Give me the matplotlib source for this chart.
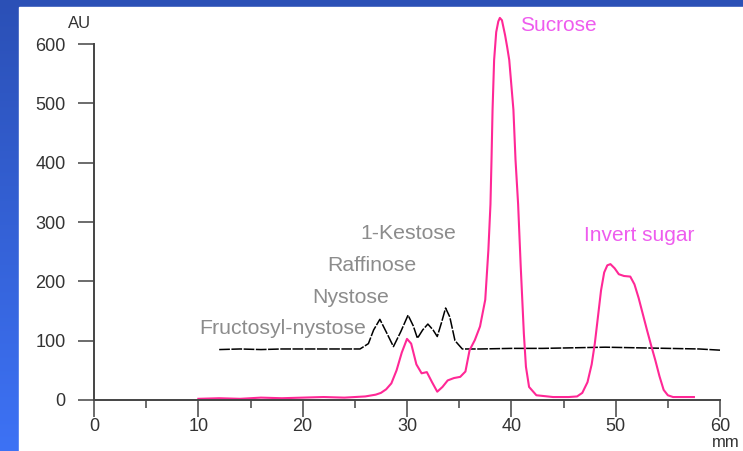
import numpy as np
import matplotlib
matplotlib.use('Agg')
import matplotlib.pyplot as plt
from matplotlib.colors import LinearSegmentedColormap
from matplotlib.patches import Rectangle

plt.rcParams['font.family'] = ['Liberation Sans', 'DejaVu Sans']

# pink trace (sample)
pink_x = [10, 12, 14, 16, 18, 20, 22, 24, 26, 27, 27.5, 28, 28.5, 29, 29.5, 30,
          30.4, 30.9, 31.4, 31.9, 32.4, 32.9, 33.4, 33.9, 34.5, 35.1, 35.6, 36.0,
          36.5, 37.0, 37.5, 37.8, 38.0, 38.1, 38.2, 38.35, 38.55, 38.75, 38.9, 39.1,
          39.4, 39.6, 39.8, 40.2, 40.4, 40.65, 40.9, 41.2, 41.4, 41.7, 42.4, 44, 45.5,
          46.3, 46.8, 47.3, 47.7, 48.0, 48.3, 48.6, 48.9, 49.2, 49.5, 49.9, 50.3, 50.8,
          51.4, 51.8, 52.2, 52.6, 53.0, 53.4, 53.8, 54.2, 54.6, 55.0, 55.5, 56.5, 57.5]
pink_y = [2, 3, 2, 4, 3, 4, 5, 4, 6, 9, 12, 18, 28, 50, 80, 103,
          95, 60, 45, 47, 30, 14, 22, 33, 37, 39, 48, 84,
          101, 124, 169, 253, 330, 405, 489, 573, 620, 638, 644, 640,
          615, 595, 573, 489, 405, 330, 225, 112, 56, 22, 8, 5, 5,
          6, 12, 30, 60, 95, 140, 185, 215, 227, 229, 222, 212, 209,
          208, 195, 172, 145, 118, 92, 67, 40, 17, 8, 5, 5, 5]

# black trace (standard)
black_x = [12, 14, 16, 18, 20, 22, 24, 25.5, 26.3, 26.8, 27.4, 28.0, 28.7, 29.4,
           30.1, 30.6, 31.0, 31.5, 32.0, 32.5, 32.9, 33.3, 33.7, 34.1, 34.6, 35.3,
           37, 40, 43, 46, 49, 52, 55, 58, 60]
black_y = [85, 86, 85, 86, 86, 86, 86, 86, 95, 118, 136, 115, 90, 115,
           143, 125, 104, 118, 128, 118, 107, 130, 155, 140, 100, 86,
           86, 87, 87, 88, 89, 88, 87, 86, 84]

labels_grey = ['1-Kestose', 'Raffinose', 'Nystose', 'Fructosyl-nystose']
labels_grey_xy = [(25.5, 280), (22.4, 226), (20.9, 172), (10.05, 120)]

fig = plt.figure(figsize=(7.43, 4.51), dpi=100)

# blue gradient background + white panel
bg = fig.add_axes([0, 0, 1, 1], zorder=-2)
cmap = LinearSegmentedColormap.from_list('bg', ['#2b50b6', '#3d72f5'])
bg.imshow(np.linspace(0, 1, 256).reshape(-1, 1), aspect='auto', cmap=cmap,
          extent=[0, 1, 0, 1], origin='upper')
bg.add_patch(Rectangle((19 / 743, 0), 1, (451 - 7) / 451, color='white'))
bg.set_xlim(0, 1)
bg.set_ylim(0, 1)
bg.axis('off')

ax = fig.add_axes([94 / 743, 51 / 451, 626 / 743, 356 / 451])
ax.set_facecolor('none')
ax.set_xlim(0, 60)
ax.set_ylim(0, 600)

ax.plot(black_x, black_y, color='black', lw=1.1, dashes=(7, 1),
        clip_on=False)
ax.plot(pink_x, pink_y, color='#ff2896', lw=1.5, clip_on=False)

for s in ['top', 'right']:
    ax.spines[s].set_visible(False)
for s in ['left', 'bottom']:
    ax.spines[s].set_color('#444444')
    ax.spines[s].set_linewidth(1.4)

ax.set_xticks(range(0, 61, 10))
ax.set_xticks(range(5, 60, 10), minor=True)
ax.set_yticks(range(0, 601, 100))
ax.tick_params(axis='y', length=11.5, width=1.1, color='#444444', pad=9,
               labelsize=13, labelcolor='#333333')
ax.tick_params(axis='x', which='major', length=12, width=1.1, color='#444444',
               pad=1, labelsize=13, labelcolor='#333333')
ax.tick_params(axis='x', which='minor', length=6, width=1.1, color='#444444')

ax.text(-2.5, 634, 'AU', fontsize=12, color='#333333', ha='left', va='center',
        clip_on=False)
ax.text(59.2, -72, 'mm', fontsize=12, color='#333333', ha='left', va='center',
        clip_on=False)

ax.text(40.85, 632, 'Sucrose', fontsize=15, color='#ee5cee', ha='left',
        va='center', clip_on=False)
ax.text(47.0, 278, 'Invert sugar', fontsize=15, color='#ee5cee', ha='left',
        va='center')
for lab, (lx, ly) in zip(labels_grey, labels_grey_xy):
    ax.text(lx, ly, lab, fontsize=15.3, color='#8c8c8c', ha='left', va='center')

fig.savefig('out.png', dpi=100)
